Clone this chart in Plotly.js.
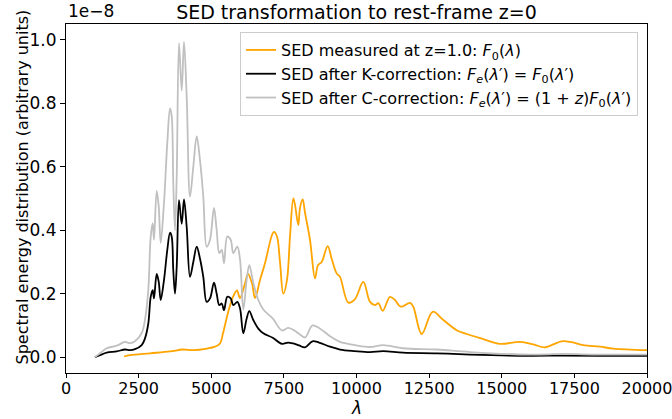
<!DOCTYPE html>
<html>
<head>
<meta charset="utf-8">
<script src="https://cdn.plot.ly/plotly-3.0.1.min.js"></script>
<style>html,body{margin:0;padding:0;background:#fff}#chart{width:672px;height:419px}</style>
</head>
<body>
<div id="chart"></div>
<script>
// Values in units of 1e-8 (arbitrary units)
const lamObs = [2000,2203,2892,3580,4027,4372,4854,5129,5301,5404,5577,5749,5886,5990,6162,6265,6403,6506,6678,6850,7091,7160,7263,7366,7480,7607,7711,7824,7883,7997,8055,8148,8227,8399,8571,8675,8802,9008,9146,9318,9432,9718,9948,10234,10465,10637,10750,10902,11153,11325,11521,11842,11955,12244,12623,12988,13449,13793,14365,14940,15628,16086,16488,17063,17408,17807,18382,18840,20000];
const fluxObs = [0.002,0.006,0.012,0.018,0.024,0.022,0.027,0.033,0.043,0.075,0.14,0.19,0.21,0.186,0.233,0.262,0.233,0.186,0.243,0.296,0.385,0.395,0.38,0.30,0.20,0.243,0.38,0.50,0.48,0.416,0.47,0.497,0.455,0.37,0.248,0.29,0.30,0.35,0.31,0.264,0.253,0.172,0.183,0.237,0.174,0.164,0.17,0.146,0.19,0.18,0.159,0.171,0.159,0.073,0.143,0.117,0.085,0.073,0.057,0.042,0.048,0.040,0.031,0.050,0.047,0.038,0.033,0.027,0.022];

const lamRest = [998,1170,1401,1745,2031,2203,2375,2606,2719,2833,2916,2985,3029,3122,3191,3260,3373,3487,3580,3638,3693,3752,3811,3890,3983,4062,4155,4268,4382,4499,4613,4726,4843,4957,5094,5187,5277,5360,5439,5552,5669,5759,5897,5990,6103,6220,6310,6447,6620,6792,7115,7435,7642,7824,8020,8227,8485,8709,9088,9432,9948,10465,10922,11600,12760,13906,15972,17108,18382,20000];
const fluxK = [0.0,0.006,0.014,0.018,0.024,0.022,0.025,0.038,0.059,0.106,0.19,0.211,0.185,0.262,0.238,0.18,0.243,0.338,0.392,0.38,0.274,0.20,0.285,0.495,0.42,0.497,0.41,0.253,0.30,0.348,0.31,0.253,0.174,0.185,0.235,0.20,0.164,0.169,0.148,0.19,0.185,0.164,0.174,0.154,0.075,0.122,0.145,0.117,0.09,0.075,0.061,0.042,0.046,0.043,0.037,0.031,0.050,0.046,0.033,0.024,0.019,0.016,0.019,0.014,0.012,0.008,0.004,0.005,0.004,0.004];
const fluxC = [0.0,0.012,0.028,0.036,0.048,0.044,0.05,0.076,0.118,0.212,0.38,0.422,0.37,0.524,0.476,0.36,0.486,0.676,0.784,0.76,0.548,0.40,0.57,0.99,0.84,0.994,0.82,0.506,0.60,0.696,0.62,0.506,0.348,0.37,0.47,0.40,0.328,0.338,0.296,0.38,0.37,0.328,0.348,0.308,0.15,0.244,0.29,0.234,0.18,0.15,0.122,0.084,0.092,0.086,0.074,0.062,0.10,0.092,0.066,0.048,0.038,0.032,0.038,0.028,0.024,0.016,0.008,0.01,0.008,0.008];

const xTicks = [0,2500,5000,7500,10000,12500,15000,17500,20000];
const yTicks = [0.0,0.2,0.4,0.6,0.8,1.0];

const names = [
  'SED measured at z=1.0: <i>F</i><sub>0</sub>(<i>λ</i>)',
  'SED after K-correction: <i>F</i><sub><i>e</i></sub>(<i>λ</i>′) = <i>F</i><sub>0</sub>(<i>λ</i>′)',
  'SED after C-correction: <i>F</i><sub><i>e</i></sub>(<i>λ</i>′) = (1 + <i>z</i>)<i>F</i><sub>0</sub>(<i>λ</i>′)'
];

const font = 'DejaVu Sans, sans-serif';
const ln = (c) => ({color: c, width: 1.8, shape: 'spline', smoothing: 1.0});
const traces = [
  {x: lamObs, y: fluxObs, name: names[0], mode: 'lines', line: ln('orange')},
  {x: lamRest, y: fluxK, name: names[1], mode: 'lines', line: ln('black')},
  {x: lamRest, y: fluxC, name: names[2], mode: 'lines', line: ln('silver')}
];

const layout = {
  width: 672, height: 419,
  margin: {l: 66, r: 25, t: 24, b: 46},
  paper_bgcolor: 'white', plot_bgcolor: 'white',
  font: {family: font, size: 17, color: 'black'},
  title: {text: 'SED transformation to rest-frame z=0', font: {size: 19, family: font}, x: 0.5, xref: 'paper', y: 0.971, yref: 'container', yanchor: 'middle'},
  showlegend: true,
  legend: {x: 0.2995, y: 0.977, xanchor: 'left', yanchor: 'top', bgcolor: 'rgba(255,255,255,0.8)', bordercolor: '#cccccc', borderwidth: 1, font: {size: 16, family: font}, tracegroupgap: 0},
  xaxis: {
    range: [0, 20000], tickvals: xTicks, ticktext: xTicks.map(String),
    ticks: 'outside', ticklen: 4, tickwidth: 1, tickcolor: 'black',
    showline: true, linecolor: 'black', linewidth: 1, mirror: true,
    showgrid: false, zeroline: false, ticklabeloverflow: 'allow',
    ticklabelstandoff: -3,
    tickfont: {size: 16}
  },
  yaxis: {
    range: [-0.05, 1.05], tickvals: yTicks, ticktext: yTicks.map(v => v.toFixed(1)),
    ticks: 'outside', ticklen: 5, tickwidth: 1, tickcolor: 'black',
    showline: true, linecolor: 'black', linewidth: 1, mirror: true,
    showgrid: false, zeroline: false,
    tickfont: {size: 17}
  },
  annotations: [
    {text: '1e−8', xref: 'paper', yref: 'paper', x: 0, y: 1, xanchor: 'left', yanchor: 'bottom', yshift: 1, showarrow: false, font: {size: 17, family: font}},
    {text: '<i>λ</i>', xref: 'paper', yref: 'paper', x: 0.5, y: -0.101, xanchor: 'center', yanchor: 'middle', showarrow: false, font: {size: 17, family: font}},
    {text: 'Spectral energy distribution (arbitrary units)', textangle: -90, xref: 'paper', yref: 'paper', x: -0.0757, y: 0.5315, xanchor: 'center', yanchor: 'middle', showarrow: false, font: {size: 16, family: font}}
  ]
};

Plotly.newPlot('chart', traces, layout, {displayModeBar: false, staticPlot: true});
</script>
</body>
</html>
